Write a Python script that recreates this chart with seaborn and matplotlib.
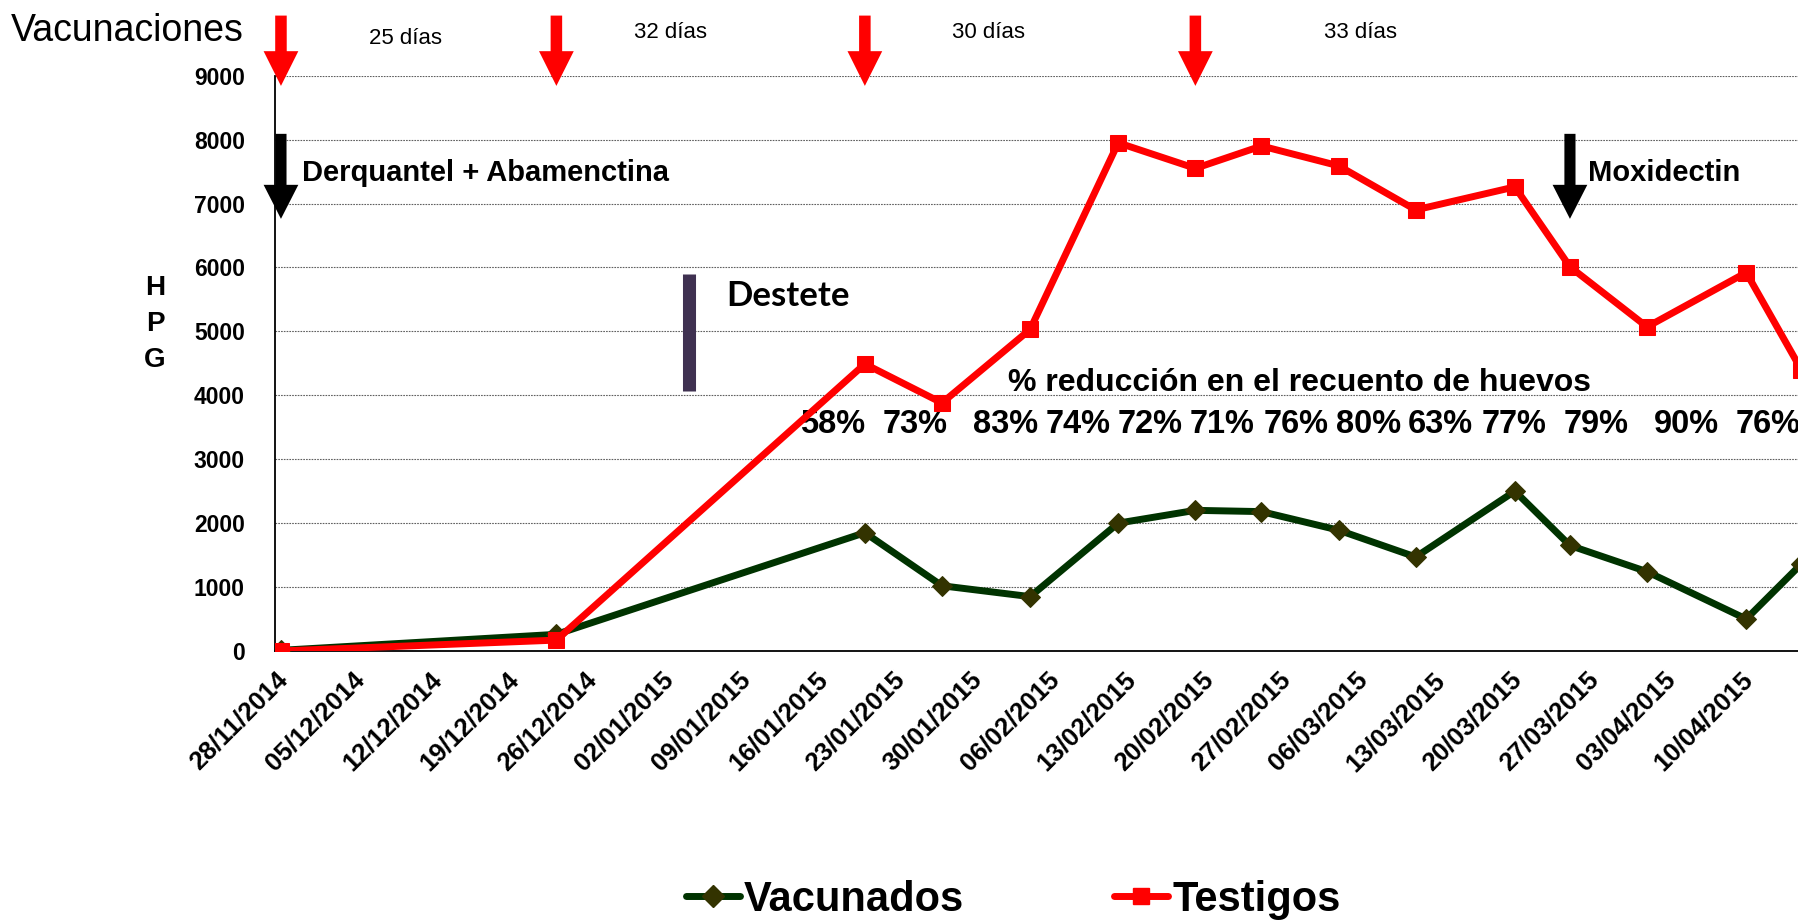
import matplotlib
matplotlib.use('Agg')
import matplotlib.pyplot as plt
import matplotlib.dates as mdates
from matplotlib.lines import Line2D
import seaborn as sns
import pandas as pd

# datos
fechas = ['28/11/2014', '23/12/2014', '20/01/2015', '27/01/2015', '04/02/2015',
          '12/02/2015', '19/02/2015', '25/02/2015', '04/03/2015', '11/03/2015',
          '20/03/2015', '25/03/2015', '01/04/2015', '10/04/2015', '15/04/2015']
vacunados = [10, 260, 1850, 1020, 850, 2000, 2200, 2180, 1890, 1470, 2500, 1650, 1240, 500, 1360]
testigos = [0, 170, 4490, 3880, 5030, 7950, 7550, 7900, 7590, 6900, 7260, 6010, 5070, 5920, 4400]
reduccion = ['58%', '73%', '83%', '74%', '72%', '71%', '76%', '80%', '63%', '77%', '79%', '90%', '76%']
intervalos = ['25 días', '32 días', '30 días', '33 días']
vacunacion_idx = [0, 1, 2, 6]
destete = '04/01/2015'
tick_fechas = pd.date_range('2014-11-28', '2015-04-10', freq='7D')

# posiciones de las anotaciones (dias desde el inicio del eje)
pos_reduccion = [47.6, 55.1, 63.3, 69.9, 76.4, 83.0, 89.7, 96.3, 102.8, 109.5, 116.9, 125.1, 132.5]
pos_intervalos = [(11.8, 9578), (35.9, 9680), (64.7, 9680), (98.5, 9680)]

sns.set_style('white')
plt.rcParams['font.family'] = ['Liberation Sans', 'DejaVu Sans']
plt.rcParams['text.color'] = 'black'
plt.rcParams['xtick.labelcolor'] = 'black'
plt.rcParams['ytick.labelcolor'] = 'black'

df = pd.DataFrame({
    'fecha': pd.to_datetime(fechas, dayfirst=True) + pd.Timedelta(hours=12),
    'Vacunados': vacunados,
    'Testigos': testigos,
})
inicio = mdates.date2num(pd.Timestamp('2014-11-28'))

fig = plt.figure(figsize=(17.98, 9.24), dpi=100)
ax = fig.add_axes([0.1532, 0.2955, 0.8468, 0.6226])

sns.lineplot(data=df, x='fecha', y='Vacunados', color='#003300', lw=5, marker='D',
             markersize=10, markerfacecolor='#333300', markeredgecolor='#333300',
             ax=ax, legend=False, zorder=3)
sns.lineplot(data=df, x='fecha', y='Testigos', color='#ff0000', lw=5, marker='s',
             markersize=12, markerfacecolor='#ff0000', markeredgecolor='#ff0000',
             ax=ax, legend=False, zorder=4)

ax.set_xlim(inicio, inicio + 138.2)
ax.set_ylim(0, 9000)
ax.set_yticks(range(0, 9001, 1000))
ax.set_yticklabels([str(v) for v in range(0, 9001, 1000)], fontweight='bold', fontsize=16.5)
ax.set_xticks(mdates.date2num(tick_fechas))
ax.set_xticklabels([d.strftime('%d/%m/%Y') for d in tick_fechas], rotation=45, ha='right',
                   va='top', rotation_mode='anchor', fontweight='bold', fontsize=18.5)
ax.tick_params(axis='y', length=8, color='#808080', pad=14)
ax.tick_params(axis='x', length=8, color='#808080', pad=4)
ax.set_xlabel('')
ax.set_ylabel('')
ax.yaxis.grid(True, ls=(0, (1.5, 1)), color='#606060', lw=0.8)
ax.xaxis.grid(False)
for s in ['top', 'right']:
    ax.spines[s].set_visible(False)
for s in ['left', 'bottom']:
    ax.spines[s].set_color('black')
    ax.spines[s].set_linewidth(1.3)

# flechas de vacunacion
for i in vacunacion_idx:
    x = mdates.date2num(df['fecha'][i])
    ax.annotate('', xy=(x, 8840), xytext=(x, 9940), annotation_clip=False,
                arrowprops=dict(arrowstyle='simple,head_length=25,head_width=25,tail_width=8.3',
                                mutation_scale=1, fc='#ff0000', ec='none',
                                shrinkA=0, shrinkB=0, clip_on=False))
for txt, (d, y) in zip(intervalos, pos_intervalos):
    ax.text(inicio + d, y, txt, ha='center', va='center', fontsize=16, clip_on=False)

# antiparasitarios
for i in [0, 11]:
    x = mdates.date2num(df['fecha'][i])
    ax.annotate('', xy=(x, 6760), xytext=(x, 8090), annotation_clip=False,
                arrowprops=dict(arrowstyle='simple,head_length=24.5,head_width=25,tail_width=8',
                                mutation_scale=1, fc='black', ec='none',
                                shrinkA=0, shrinkB=0, clip_on=False))
ax.text(inicio + 2.4, 7484, 'Derquantel + Abamenctina', ha='left', va='center',
        fontsize=21, fontweight='bold')
ax.text(inicio + 119.1, 7484, 'Moxidectin', ha='left', va='center',
        fontsize=21, fontweight='bold')

# destete
xd = mdates.date2num(pd.to_datetime(destete, dayfirst=True) + pd.Timedelta(hours=12))
ax.plot([xd, xd], [4060, 5890], color='#3f3151', lw=9.4, solid_capstyle='butt')
ax.text(inicio + 40.9, 5547, 'Destete', ha='left', va='center', fontsize=25,
        fontweight='bold', family=['Lato', 'DejaVu Sans'])

# reduccion
ax.text(inicio + 66.5, 4190, '% reducción en el recuento de huevos', ha='left', va='center',
        fontsize=23, fontweight='bold')
for txt, d in zip(reduccion, pos_reduccion):
    ax.text(inicio + d, 3547, txt, ha='left', va='center', fontsize=23.5,
            fontweight='bold', clip_on=False)

fig.text(11 / 1798, 1 - 31 / 924, 'Vacunaciones', ha='left', va='center', fontsize=27)
fig.text(155 / 1798, 1 - 324 / 924, 'H\nP\nG', ha='center', va='center', fontsize=20,
         fontweight='bold', linespacing=1.5)

handles = [
    Line2D([], [], color='#003300', lw=5, marker='D', markersize=11,
           markerfacecolor='#333300', markeredgecolor='#333300', solid_capstyle='round'),
    Line2D([], [], color='#ff0000', lw=5, marker='s', markersize=12,
           markerfacecolor='#ff0000', markeredgecolor='#ff0000', solid_capstyle='round'),
]
fig.legend(handles, ['Vacunados', 'Testigos'], loc='center', bbox_to_anchor=(0.5636, 0.026),
           ncol=2, frameon=False, prop=dict(weight='bold', size=30), handlelength=1.3,
           handletextpad=0.1, columnspacing=3.6)

fig.savefig('out.png', dpi=100)
